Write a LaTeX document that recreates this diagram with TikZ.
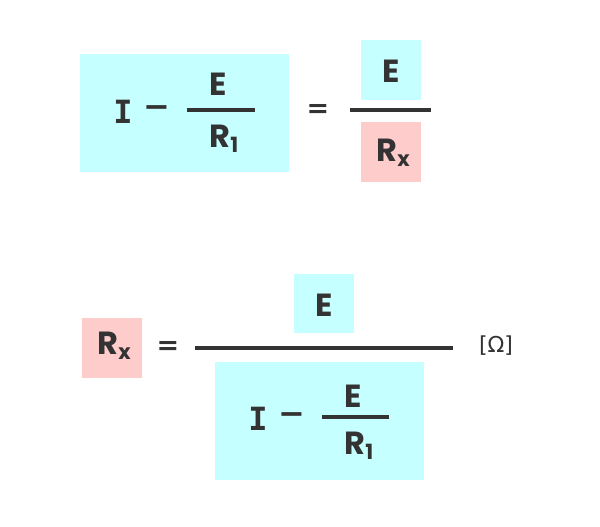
\documentclass[tikz,border=0pt]{standalone}
\usepackage{fontspec}
\setmainfont{Poppins}
\newfontfamily\monof{DejaVu Sans Mono}
\newfontfamily\dejav{DejaVu Sans}
\definecolor{cy}{RGB}{198,255,255}
\definecolor{pk}{RGB}{255,204,204}
\definecolor{ink}{RGB}{51,51,51}
\newcommand{\subx}[1]{\raisebox{-5pt}{\fontsize{21}{21}\selectfont #1}}
\begin{document}
\begin{tikzpicture}[x=1pt,y=-1pt,
  txt/.style={inner sep=0pt,text=ink,font=\fontsize{32}{32}\selectfont\bfseries},
  op/.style={inner sep=0pt,text=ink,font=\dejav\fontsize{27}{27}\selectfont\bfseries},
  minus/.style={inner sep=0pt,text=ink,font=\dejav\fontsize{32}{32}\selectfont\bfseries},
  small/.style={inner sep=0pt,text=ink,font=\dejav\fontsize{22}{22}\selectfont},
  bar/.style={draw=ink,line width=3.6pt}]
\useasboundingbox (0,0) rectangle (600,527);
% top equation
\fill[cy] (80,54) rectangle (289,172);
\fill[cy] (361,40) rectangle (421,100);
\fill[pk] (361,122) rectangle (421,182);
\node[txt] (i1) at (123,112) {\monof I};
\node[minus] (m1) at (157,112) {−};
\node[txt] (e1) at (218,84) {E};
\node[txt] (r1) at (224,139) {R\subx{1}};
\coordinate (b1l) at (187,110);
\coordinate (b1r) at (255,110);
\draw[bar] (b1l) -- (b1r);
\node[op] (eq1) at (318,111) {=};
\node[txt] (e2) at (391,71) {E};
\node[txt] (rx1) at (393,153) {R\subx{x}};
\coordinate (b2l) at (350,110);
\coordinate (b2r) at (431,110);
\draw[bar] (b2l) -- (b2r);
% bottom equation
\fill[pk] (82,318) rectangle (142,378);
\fill[cy] (294,274) rectangle (354,333);
\fill[cy] (215,362) rectangle (424,480);
\node[txt] (rx2) at (114,346) {R\subx{x}};
\node[op] (eq2) at (168,348) {=};
\coordinate (b3l) at (195,348);
\coordinate (b3r) at (453,348);
\draw[bar] (b3l) -- (b3r);
\node[txt] (e3) at (324,305) {E};
\node[txt] (i2) at (258,419) {\monof I};
\node[minus] (m2) at (292,419) {−};
\node[txt] (e4) at (353,396) {E};
\coordinate (b4l) at (322,417);
\coordinate (b4r) at (389,417);
\draw[bar] (b4l) -- (b4r);
\node[txt] (r2) at (359,446) {R\subx{1}};
\node[small] (om) at (496,346) {[Ω]};
\end{tikzpicture}
\end{document}
